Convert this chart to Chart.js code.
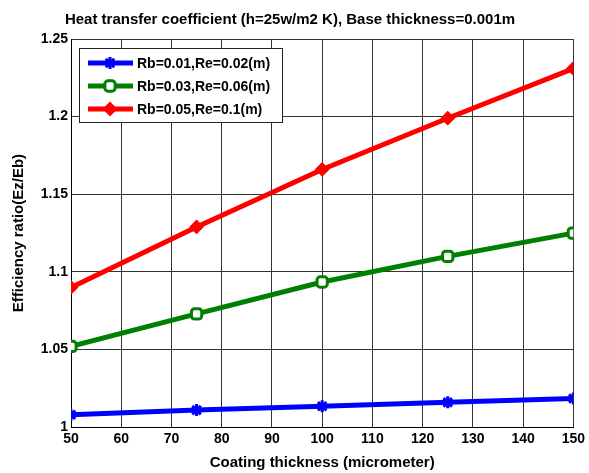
<!DOCTYPE html>
<html>
<head>
<meta charset="utf-8">
<script src="https://cdn.jsdelivr.net/npm/chart.js@4/dist/chart.umd.min.js"></script>
<style>
  html, body { margin: 0; padding: 0; background: #fff; }
  #wrap { width: 589px; height: 473px; }
</style>
</head>
<body>
<div id="wrap"><canvas id="c" width="589" height="473"></canvas></div>
<script>
// coating thickness (micrometer)
const thickness = [50, 75, 100, 125, 150];
const ratioSmall = [1.008, 1.011, 1.0135, 1.016, 1.0185];
const ratioMid = [1.052, 1.073, 1.0935, 1.110, 1.125];
const ratioLarge = [1.090, 1.129, 1.166, 1.199, 1.231];
const seriesLabels = ['Rb=0.01,Re=0.02(m)', 'Rb=0.03,Re=0.06(m)', 'Rb=0.05,Re=0.1(m)'];
const yTicks = [1, 1.05, 1.1, 1.15, 1.2, 1.25];

const FONT = 'Liberation Sans, Arial, sans-serif';

function pts(vals) {
    return thickness.map((x, i) => ({ x: x, y: vals[i] }));
}

// legend drawn inside the plot, top-left, like the original figure
const insideLegend = {
    id: 'insideLegend',
    afterDraw(chart) {
        const ctx = chart.ctx;
        const a = chart.chartArea;
        const x0 = a.left + 8, y0 = a.top + 9, w = 203, h = 74;
        ctx.save();
        ctx.fillStyle = '#fff';
        ctx.fillRect(x0, y0, w, h);
        ctx.strokeStyle = '#222';
        ctx.lineWidth = 1;
        ctx.strokeRect(x0 + 0.5, y0 + 0.5, w, h);
        ctx.font = 'bold 14px ' + FONT;
        ctx.textBaseline = 'middle';
        chart.data.datasets.forEach((ds, i) => {
            const cy = y0 + 15 + i * 23;
            ctx.strokeStyle = ds.borderColor;
            ctx.lineWidth = 5;
            ctx.beginPath();
            ctx.moveTo(x0 + 9, cy);
            ctx.lineTo(x0 + 54, cy);
            ctx.stroke();
            ctx.fillStyle = ds.pointBackgroundColor;
            ctx.strokeStyle = ds.borderColor;
            ctx.lineWidth = ds.pointBorderWidth;
            Chart.helpers.drawPoint(ctx, {
                pointStyle: ds.pointStyle, rotation: 0,
                radius: ds.pointRadius, borderWidth: ds.pointBorderWidth
            }, x0 + 31, cy);
            ctx.fillStyle = '#000';
            ctx.fillText(ds.label, x0 + 58, cy + 1);
        });
        ctx.restore();
    }
};

new Chart(document.getElementById('c').getContext('2d'), {
    type: 'line',
    data: {
        datasets: [
            {
                label: seriesLabels[0], data: pts(ratioSmall),
                borderColor: '#0000ff', backgroundColor: '#0000ff',
                pointStyle: 'star', pointRadius: 6, pointBorderWidth: 3,
                pointBackgroundColor: '#0000ff', borderWidth: 5
            },
            {
                label: seriesLabels[1], data: pts(ratioMid),
                borderColor: '#008000', backgroundColor: '#ffffff',
                pointStyle: 'rectRounded', pointRadius: 6, pointBorderWidth: 3,
                pointBackgroundColor: '#ffffff', borderWidth: 5
            },
            {
                label: seriesLabels[2], data: pts(ratioLarge),
                borderColor: '#ff0000', backgroundColor: '#ff0000',
                pointStyle: 'rectRot', pointRadius: 6, pointBorderWidth: 2,
                pointBackgroundColor: '#ff0000', borderWidth: 5
            }
        ]
    },
    options: {
        responsive: false,
        animation: false,
        layout: { padding: { left: 6, right: 15, top: 2, bottom: 0 } },
        plugins: {
            legend: { display: false },
            tooltip: { enabled: false },
            title: {
                display: true,
                text: 'Heat transfer coefficient (h=25w/m2 K), Base thickness=0.001m',
                color: '#000',
                font: { family: FONT, size: 15, weight: 'bold' },
                padding: { top: 9, bottom: 10 }
            }
        },
        scales: {
            x: {
                type: 'linear', min: 50, max: 150,
                ticks: {
                    stepSize: 10, color: '#000', padding: 4,
                    font: { family: FONT, size: 14, weight: 'bold' }
                },
                grid: { color: '#333', lineWidth: 1, drawTicks: false },
                border: { color: '#000', width: 1 },
                title: {
                    display: true, text: 'Coating thickness (micrometer)', color: '#000',
                    font: { family: FONT, size: 15, weight: 'bold' }, padding: { top: 2, bottom: 1 }
                }
            },
            y: {
                type: 'linear', min: 1, max: 1.25,
                afterBuildTicks(axis) { axis.ticks = yTicks.map(v => ({ value: v })); },
                afterFit(axis) { axis.width = 65; },
                ticks: {
                    color: '#000', padding: 3,
                    font: { family: FONT, size: 14, weight: 'bold' },
                    callback: v => String(Number(v.toFixed(2)))
                },
                grid: { color: '#333', lineWidth: 1, drawTicks: false },
                border: { color: '#000', width: 1 },
                title: {
                    display: true, text: 'Efficiency ratio(Ez/Eb)', color: '#000',
                    font: { family: FONT, size: 15, weight: 'bold' }, padding: { bottom: 0 }
                }
            }
        }
    },
    plugins: [insideLegend]
});
</script>
</body>
</html>
